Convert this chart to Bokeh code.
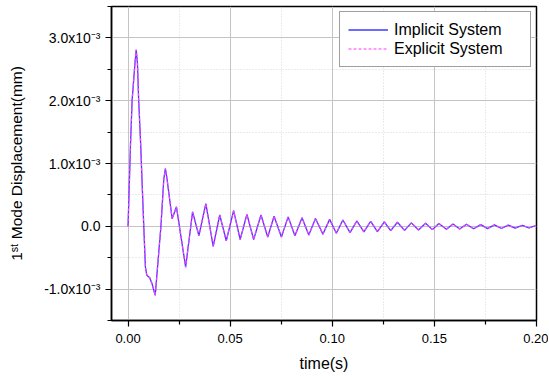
from bokeh.plotting import figure
from bokeh.models import FixedTicker, Legend, LegendItem, Range1d, NumeralTickFormatter, ColumnDataSource
from bokeh.embed import file_html
from bokeh.resources import INLINE

# time (s) and 1st mode displacement (units of 1e-3 mm)
time_s = [
    0.0000, 0.0012, 0.0020, 0.0034, 0.0040, 0.0046, 0.0052, 0.0061, 0.0077,
    0.0085, 0.0092, 0.0106, 0.0118, 0.0133, 0.0161, 0.0175, 0.0183, 0.0191,
    0.0216, 0.0237, 0.0282, 0.0316, 0.0347, 0.0381, 0.0417, 0.0449, 0.0481,
    0.0517, 0.0549, 0.0582, 0.0615, 0.0651, 0.0684, 0.0715, 0.0751, 0.0784,
    0.0817, 0.0852, 0.0885, 0.0918, 0.0954, 0.0987, 0.1020, 0.1052, 0.1087,
    0.1120, 0.1155, 0.1188, 0.1221, 0.1255, 0.1286, 0.1319, 0.1354, 0.1387,
    0.1422, 0.1457, 0.1490, 0.1522, 0.1559, 0.1591, 0.1624, 0.1657, 0.1692,
    0.1727, 0.1760, 0.1794, 0.1828, 0.1862, 0.1895, 0.1931, 0.1963, 0.1996,
]
implicit_disp = [
    0.00, 1.30, 2.01, 2.60, 2.81, 2.60, 2.01, 1.37, 0.00,
    -0.65, -0.78, -0.82, -0.92, -1.10, 0.00, 0.75, 0.92, 0.75,
    0.12, 0.31, -0.65, 0.23, -0.15, 0.36, -0.32, 0.18, -0.23,
    0.25, -0.21, 0.19, -0.21, 0.18, -0.17, 0.16, -0.17, 0.15,
    -0.15, 0.135, -0.14, 0.125, -0.125, 0.11, -0.11, 0.10, -0.10,
    0.085, -0.09, 0.08, -0.085, 0.07, -0.07, 0.064, -0.065, 0.055,
    -0.058, 0.048, -0.053, 0.043, -0.048, 0.037, -0.043, 0.032, -0.04,
    0.027, -0.037, 0.022, -0.035, 0.02, -0.03, 0.016, -0.027, 0.012,
]
# the explicit curve coincides with the implicit one in the picture
explicit_disp = list(implicit_disp)

x_ticks = [0.0, 0.05, 0.10, 0.15, 0.20]
x_minor = [0.025, 0.075, 0.125, 0.175]
y_ticks = [-1, 0, 1, 2, 3]
y_minor = [-1.5, -0.5, 0.5, 1.5, 2.5, 3.5]
y_tick_labels = {-1: "-1.0x10\u207b\u00b3", 0: "0.0", 1: "1.0x10\u207b\u00b3",
                 2: "2.0x10\u207b\u00b3", 3: "3.0x10\u207b\u00b3"}
series_names = ["Implicit System", "Explicit System"]

FONT = "Liberation Sans"

p = figure(width=548, height=376, output_backend="svg", toolbar_location=None,
           x_range=Range1d(-0.0081, 0.2), y_range=Range1d(-1.5, 3.5),
           min_border_left=111, min_border_right=12, min_border_top=6,
           min_border_bottom=56)

src = ColumnDataSource(dict(t=time_s, imp=implicit_disp, exp=explicit_disp))
r1 = p.line("t", "imp", source=src, line_color="#3a3aff", line_width=1.3)
r2 = p.line("t", "exp", source=src, line_color="#ff3cff", line_width=1.2, line_dash="3 2")

p.xaxis.ticker = FixedTicker(ticks=x_ticks, minor_ticks=x_minor)
p.yaxis.ticker = FixedTicker(ticks=y_ticks, minor_ticks=y_minor)
p.xaxis.formatter = NumeralTickFormatter(format="0.00")
p.yaxis.major_label_overrides = y_tick_labels

p.xaxis.axis_label = "time(s)"
p.yaxis.axis_label = "1\u02e2\u1d57 Mode Displacement(mm)"

for ax in (p.xaxis, p.yaxis):
    ax.axis_label_text_font = FONT
    ax.axis_label_text_font_style = "normal"
    ax.axis_label_text_color = "black"
    ax.major_label_text_font = FONT
    ax.major_label_text_font_size = "13px"
    ax.major_label_text_color = "black"
    ax.axis_line_color = "black"
    ax.axis_line_width = 1.5
    ax.major_tick_line_color = "black"
    ax.minor_tick_line_color = "black"
    ax.major_tick_line_width = 1.2
    ax.minor_tick_line_width = 1.2
    ax.major_tick_in = 0
    ax.major_tick_out = 6
    ax.minor_tick_in = 0
    ax.minor_tick_out = 4
    ax.major_label_standoff = 5

p.xaxis.major_label_standoff = 7
p.xaxis.axis_label_text_font_size = "16px"
p.xaxis.axis_label_standoff = 9
p.yaxis.axis_label_text_font_size = "15.5px"
p.yaxis.axis_label_standoff = 16
p.yaxis.major_label_text_font_size = "14px"

for g in (p.xgrid, p.ygrid):
    g.grid_line_color = "#c4c4c4"
    g.grid_line_width = 1
    g.minor_grid_line_color = "#d6d6d6"
    g.minor_grid_line_dash = "1 2"
    g.minor_grid_line_width = 1

p.outline_line_color = "black"
p.outline_line_width = 1.5
p.background_fill_color = "white"
p.border_fill_color = "white"

legend = Legend(items=[LegendItem(label=series_names[0], renderers=[r1]),
                       LegendItem(label=series_names[1], renderers=[r2])],
                location="top_right", margin=5, padding=8, spacing=0,
                glyph_width=40, glyph_height=19, label_height=19,
                label_width=128, label_standoff=6,
                label_text_font=FONT, label_text_font_size="16px",
                label_text_color="black",
                border_line_color="#404040", border_line_width=1,
                background_fill_color="white", background_fill_alpha=1)
p.add_layout(legend)

open("out.html", "w").write(file_html(p, INLINE))
